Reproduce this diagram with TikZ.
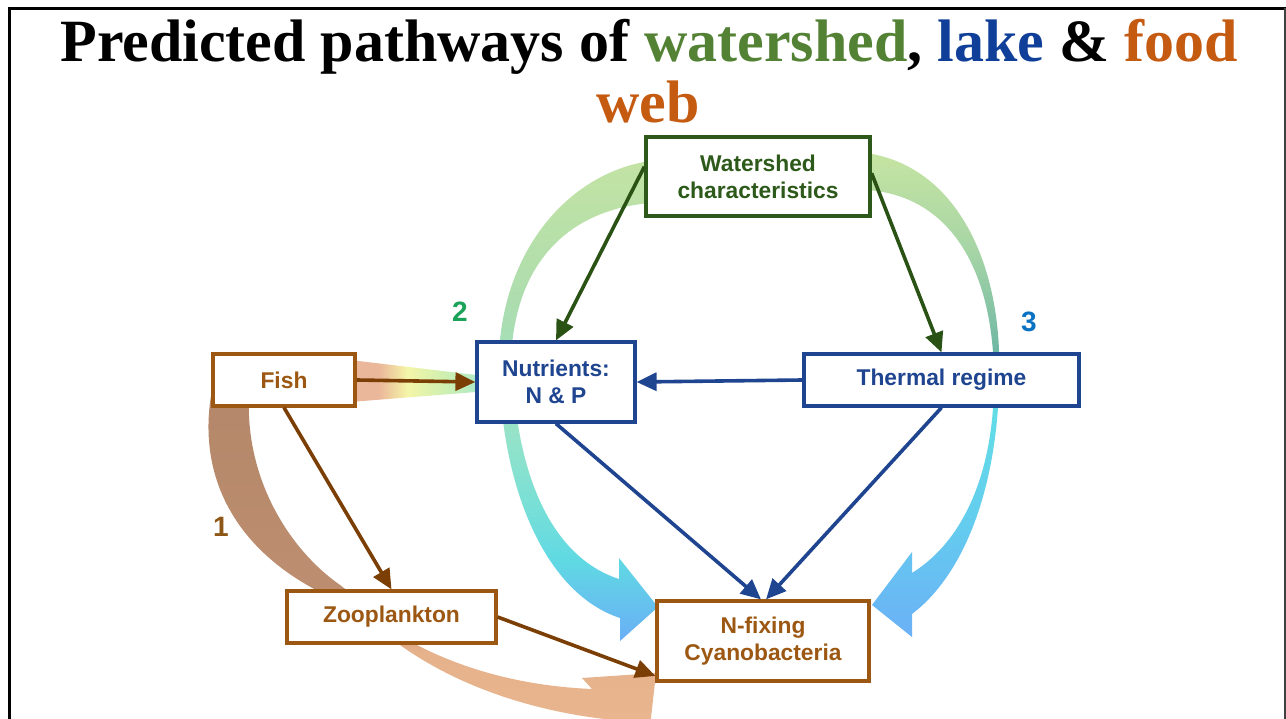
\documentclass[tikz,border=0pt]{standalone}
\usepackage{fontspec}
\setmainfont{Liberation Serif}
\newfontfamily\boxfont{Liberation Sans}
\usetikzlibrary{arrows.meta,calc}

\definecolor{ttlgreen}{HTML}{548235}
\definecolor{ttlblue}{HTML}{0F3F98}
\definecolor{ttlorange}{HTML}{C55A11}
\definecolor{wsgreen}{HTML}{2D5A1A}
\definecolor{arrgreen}{HTML}{2A5215}
\definecolor{lkblue}{HTML}{1F4590}
\definecolor{fwbrown}{HTML}{9C5812}
\definecolor{arrbrown}{HTML}{7B3F06}
\definecolor{lbltwo}{HTML}{1CA35A}
\definecolor{lblthree}{HTML}{0A72C2}
\definecolor{lblone}{HTML}{8E5716}

\definecolor{lbA}{HTML}{6AAEF6}
\definecolor{lbB}{HTML}{60D9E3}
\definecolor{lbC}{HTML}{7BE0D5}
\definecolor{lbD}{HTML}{9AE3C6}
\definecolor{lbE}{HTML}{ADDDAE}
\definecolor{lbF}{HTML}{C3E3A4}
\pgfdeclareverticalshading{leftband}{100bp}{color(0bp)=(lbA); color(25bp)=(lbA); color(33.4bp)=(lbB); color(39.7bp)=(lbC); color(48bp)=(lbD); color(60.4bp)=(lbE); color(75bp)=(lbF); color(100bp)=(lbF)}

\definecolor{rbA}{HTML}{6BB0F6}
\definecolor{rbB}{HTML}{64CDEE}
\definecolor{rbC}{HTML}{62DDE6}
\definecolor{rbD}{HTML}{6CB6A4}
\definecolor{rbE}{HTML}{A7D5A6}
\definecolor{rbF}{HTML}{C5E4A2}
\pgfdeclareverticalshading{rightband}{100bp}{color(0bp)=(rbA); color(25bp)=(rbA); color(37bp)=(rbB); color(48.4bp)=(rbC); color(54bp)=(rbD); color(65bp)=(rbE); color(75bp)=(rbF); color(100bp)=(rbF)}

\definecolor{bbA}{HTML}{EAB690}
\definecolor{bbB}{HTML}{E6B28C}
\definecolor{bbC}{HTML}{BC8D6E}
\definecolor{bbD}{HTML}{B4876A}
\pgfdeclareverticalshading{brownband}{100bp}{color(0bp)=(bbA); color(25bp)=(bbA); color(37.9bp)=(bbB); color(44.9bp)=(bbC); color(50.5bp)=(bbC); color(75bp)=(bbD); color(100bp)=(bbD)}

\definecolor{wgA}{HTML}{EBB79A}
\definecolor{wgB}{HTML}{F4F5A8}
\definecolor{wgC}{HTML}{D0F0B0}
\definecolor{wgD}{HTML}{B0EAC5}
\pgfdeclarehorizontalshading{fishwedge}{100bp}{color(0bp)=(wgA); color(25bp)=(wgA); color(36.6bp)=(wgA); color(47.7bp)=(wgB); color(62bp)=(wgC); color(75bp)=(wgD); color(100bp)=(wgD)}

\tikzset{
  box/.style={draw, fill=white, line width=3.2pt, inner sep=0pt, align=center,
    font=\boxfont\bfseries\fontsize{22.8}{27}\selectfont},
  wsbox/.style={box, draw=wsgreen, text=wsgreen},
  lkbox/.style={box, draw=lkblue, text=lkblue},
  fwbox/.style={box, draw=fwbrown, text=fwbrown},
  conn/.style={line width=3.6pt, -{Triangle[length=20pt,width=18pt]}},
  numlbl/.style={font=\boxfont\bfseries\fontsize{28}{28}\selectfont},
  ttl/.style={anchor=base, inner sep=0pt, font=\bfseries\fontsize{60}{60}\selectfont}
}

\begin{document}
\begin{tikzpicture}[x=1pt,y=-1pt]
\useasboundingbox (0,0) rectangle (1286,719);
\fill[white] (0,0) rectangle (1286,719);

% frame
\draw[line width=3pt] (9,719) -- (9,8.3) -- (1286,8.3);
\draw[line width=1.5pt, black!75] (1285,8) -- (1285,719);

% title
\node[ttl] (title1) at (649,62) {Predicted pathways of \textcolor{ttlgreen}{watershed}, \textcolor{ttlblue}{lake} \& \textcolor{ttlorange}{food}};
\node[ttl, text=ttlorange] (title2) at (648,123) {web};

% wide bands
\shade[shading=leftband]
  (650,161) .. controls (575,172) and (510,240) .. (500,340)
  .. controls (494,460) and (535,590) .. (620,618)
  -- (620,641) -- (658,607) -- (619,558) -- (619,579)
  .. controls (545,555) and (512,460) .. (512,345)
  .. controls (520,260) and (570,210) .. (650,203) -- cycle;

\shade[shading=rightband]
  (866,153) .. controls (950,165) and (995,250) .. (999,350)
  .. controls (1003,470) and (970,570) .. (912,614)
  -- (912,637) -- (872,605) -- (912,552) -- (912,573)
  .. controls (965,540) and (994,470) .. (994,380)
  .. controls (994,270) and (950,195) .. (866,190) -- cycle;

\shade[shading=brownband]
  (213,385) .. controls (195,470) and (230,550) .. (330,597)
  .. controls (360,612) and (380,632) .. (400,645)
  .. controls (470,695) and (560,718) .. (640,722)
  -- (648,745) -- (656,673) -- (582,678) -- (592,689)
  .. controls (520,686) and (460,668) .. (413,643)
  .. controls (390,630) and (360,600) .. (340,585)
  .. controls (290,550) and (245,480) .. (249,395) -- cycle;

\shade[shading=fishwedge] (350,360) -- (476,375) -- (476,392) -- (350,402) -- cycle;

% boxes
\node[wsbox, minimum width=224pt, minimum height=79pt] (ws) at (758,176.5) {Watershed\\characteristics};
\node[lkbox, minimum width=158pt, minimum height=80pt] (nut) at (556,382) {Nutrients:\\N \& P};
\node[lkbox, minimum width=275pt, minimum height=52pt] (therm) at (941.5,380) {Thermal regime};
\node[fwbox, minimum width=142pt, minimum height=52pt] (fish) at (284,380) {Fish};
\node[fwbox, minimum width=209pt, minimum height=52pt] (zoo) at (391.5,617) {Zooplankton};
\node[fwbox, minimum width=212pt, minimum height=80pt] (cyano) at (763,641) {N-fixing\\Cyanobacteria};

% labels
\node[numlbl, text=lbltwo] (l2) at (460,312) {2};
\node[numlbl, text=lblthree] (l3) at (1029,322) {3};
\node[numlbl, text=lblone] (l1) at (221,527) {1};

% connectors
\draw[conn, arrgreen] ($(ws.north west)!0.38!(ws.south west)$) -- (nut.north);
\draw[conn, arrgreen] ($(ws.north east)!0.46!(ws.south east)$) -- (therm.north);
\draw[conn, lkblue] (therm.west) -- (nut.east);
\draw[conn, lkblue] (nut.south) -- ([xshift=-2pt]cyano.north);
\draw[conn, lkblue] (therm.south) -- ([xshift=3pt]cyano.north);
\draw[conn, arrbrown] (fish.east) -- (nut.west);
\draw[conn, arrbrown] (fish.south) -- (zoo.north);
\draw[conn, arrbrown] (zoo.east) -- ($(cyano.south west)!0.08!(cyano.north west)$);
\end{tikzpicture}
\end{document}
